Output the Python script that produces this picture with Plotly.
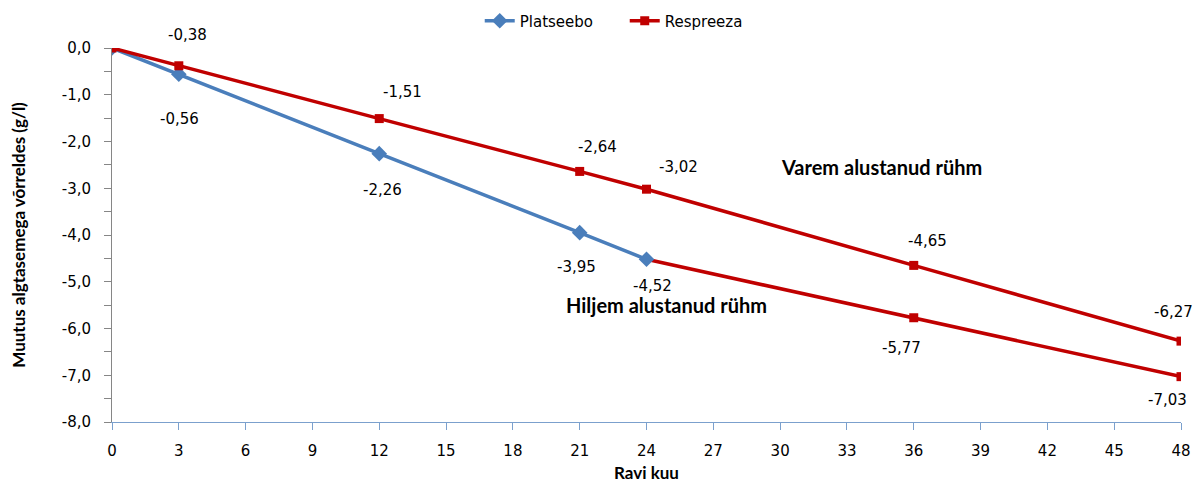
import plotly.graph_objects as go

months_placebo = [0, 3, 12, 21, 24]
placebo = [0.0, -0.56, -2.26, -3.95, -4.52]
months_early = [0, 3, 12, 21, 24, 36, 48]
respreeza_early = [0.0, -0.38, -1.51, -2.64, -3.02, -4.65, -6.27]
months_late = [24, 36, 48]
respreeza_late = [-4.52, -5.77, -7.03]

x_ticks = list(range(0, 49, 3))
y_ticks = [0, -1, -2, -3, -4, -5, -6, -7, -8]
y_ticktext = ["0,0", "-1,0", "-2,0", "-3,0", "-4,0", "-5,0", "-6,0", "-7,0", "-8,0"]

# pixel offsets (dx, dy) of the data labels relative to their points
early_label_offsets = [(9, 31), (23, 27), (18, 24), (32, 22), (14, 24), (-8, 29)]
placebo_label_offsets = [(1, -45), (3, -36), (-3, -34), (6, -27)]
late_label_offsets = [(-12, -30), (-14, -23)]

BLUE = "#4A7EBB"
RED = "#C00000"
FONT = "DejaVu Sans"
BOLD = "Lato"

fig = go.Figure()
fig.add_trace(go.Scatter(x=months_late, y=respreeza_late, mode="lines",
                         line=dict(color=RED, width=3.5),
                         showlegend=False, hoverinfo="skip"))
fig.add_trace(go.Scatter(x=months_late[1:], y=respreeza_late[1:], mode="markers",
                         marker=dict(symbol="square", size=9, color=RED),
                         showlegend=False, hoverinfo="skip"))
fig.add_trace(go.Scatter(x=months_placebo, y=placebo, mode="lines+markers", name="Platseebo",
                         line=dict(color=BLUE, width=3.5),
                         marker=dict(symbol="diamond", size=12, color=BLUE)))
fig.add_trace(go.Scatter(x=months_early, y=respreeza_early, mode="lines+markers", name="Respreeza",
                         line=dict(color=RED, width=3.5),
                         marker=dict(symbol="square", size=9, color=RED)))

def fmt(v):
    return f"{v:.2f}".replace(".", ",")

lab_font = dict(family=FONT, size=15, color="#000")
anns = []
for (x, y), (dx, dy) in zip(zip(months_early[1:], respreeza_early[1:]), early_label_offsets):
    anns.append(dict(x=x, y=y, text=fmt(y), showarrow=False, xshift=dx, yshift=dy, font=lab_font))
for (x, y), (dx, dy) in zip(zip(months_placebo[1:], placebo[1:]), placebo_label_offsets):
    anns.append(dict(x=x, y=y, text=fmt(y), showarrow=False, xshift=dx, yshift=dy, font=lab_font))
for (x, y), (dx, dy) in zip(zip(months_late[1:], respreeza_late[1:]), late_label_offsets):
    anns.append(dict(x=x, y=y, text=fmt(y), showarrow=False, xshift=dx, yshift=dy, font=lab_font))
anns.append(dict(x=34.57, y=-2.545, text="<b>Varem alustanud rühm</b>", showarrow=False,
                 font=dict(family=BOLD, size=20, color="#000")))
anns.append(dict(x=24.88, y=-5.49, text="<b>Hiljem alustanud rühm</b>", showarrow=False,
                 font=dict(family=BOLD, size=20, color="#000")))

fig.update_layout(
    width=1195, height=490,
    margin=dict(l=112, r=14, t=48, b=68, autoexpand=False),
    paper_bgcolor="white", plot_bgcolor="white",
    font=dict(family=FONT, size=15, color="#000"),
    annotations=anns,
    legend=dict(orientation="h", x=0.344, xanchor="left", y=1.072, yanchor="middle",
                font=dict(family=FONT, size=15), entrywidth=100, entrywidthmode="pixels"),
    xaxis=dict(range=[0, 48], tickvals=x_ticks, showgrid=False, zeroline=False,
               showline=True, linecolor="#7BA0CD", linewidth=1, ticks="outside", tickcolor="#7BA0CD",
               ticklen=7, ticklabelstandoff=8, tickfont=dict(family=FONT, size=15),
               title=dict(text="<b>Ravi kuu</b>", font=dict(family=BOLD, size=17), standoff=8)),
    yaxis=dict(range=[-8, 0], tickvals=y_ticks, ticktext=y_ticktext, showgrid=False, zeroline=False,
               showline=True, linecolor="#868686", linewidth=1, ticks="outside", tickcolor="#868686",
               ticklen=7, ticklabelstandoff=10, tickfont=dict(family=FONT, size=15),
               minor=dict(dtick=0.5, ticks="outside", ticklen=7, tickcolor="#868686", showgrid=False),
               title=dict(text="<b>Muutus algtasemega võrreldes (g/l)</b>", font=dict(family=BOLD, size=17), standoff=31)),
)
fig.write_html("out.html", config={"displayModeBar": False},
               post_script="document.body.style.margin='0';document.body.style.overflow='hidden';")
